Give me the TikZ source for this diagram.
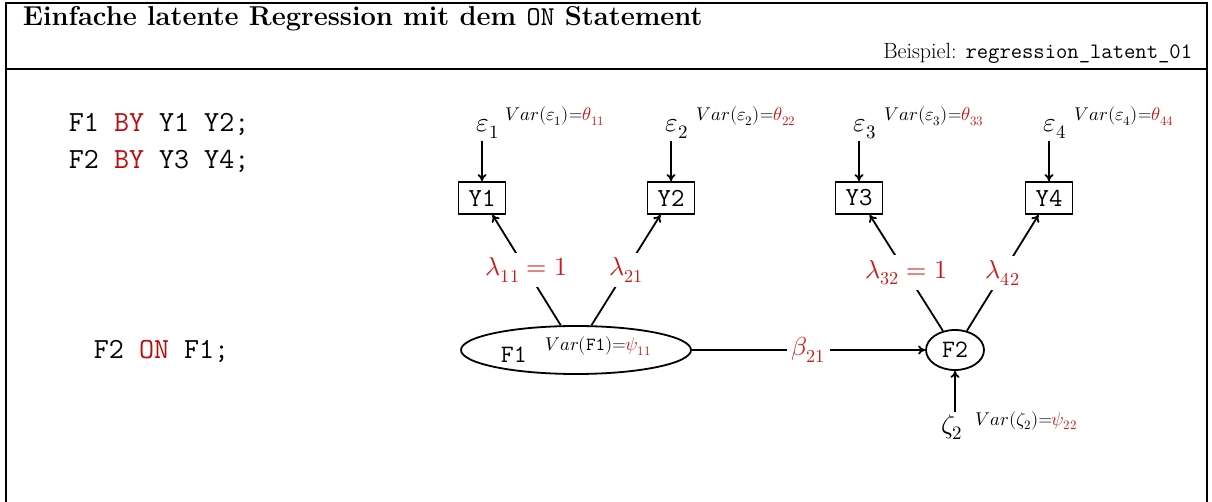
\documentclass[tikz,border=0pt]{standalone}
\usepackage{fontspec}
\usepackage{unicode-math}
\usetikzlibrary{shapes.geometric,arrows.meta}
\definecolor{lred}{RGB}{205,25,25}
\definecolor{cred}{RGB}{190,10,10}
\newcommand{\fsz}[1]{\fontsize{#1}{#1}\selectfont}
\begin{document}
\begin{tikzpicture}[x=1pt,y=-1pt, line width=1.8pt, >={To[length=7pt,width=9pt]},
  obs/.style={draw, rectangle, minimum width=47pt, minimum height=32pt, inner sep=0pt, font=\fsz{26}\ttfamily},
  lat/.style={draw, ellipse, inner sep=0pt, font=\fsz{25}\ttfamily},
  err/.style={inner sep=1pt, font=\fsz{27}},
  var/.style={anchor=base west, inner sep=0pt, font=\fsz{18.5}},
  lab/.style={fill=white, inner sep=5pt, text=lred, font=\fsz{26}},
  code/.style={anchor=base west, inner sep=0pt, font=\fsz{29.2}\ttfamily},
  conn/.style={->, line width=1.8pt}]
\useasboundingbox (0,0) rectangle (1212,502);
% frame
\draw (6,502) -- (6,3) -- (1207,3) -- (1207,502);
\draw (6,69) -- (1207,69);
\node[anchor=base west, inner sep=0pt, font=\fsz{27.3}\bfseries] (title) at (22,26)
  {Einfache latente Regression mit dem {\mdseries\ttfamily ON} Statement};
\node[anchor=base east, inner sep=0pt, font=\fsz{22}] (bsp) at (1193,59)
  {Beispiel: \texttt{regression\_latent\_01}};
% code
\node[code] (c1) at (68,132) {F1 \textcolor{cred}{BY} Y1 Y2;};
\node[code] (c2) at (68,169) {F2 \textcolor{cred}{BY} Y3 Y4;};
\node[code] (c3) at (93,358) {F2 \textcolor{cred}{ON} F1;};
% observed
\node[obs] (Y1) at (482,198) {Y1};
\node[obs] (Y2) at (671,198) {Y2};
\node[obs] (Y3) at (859,198) {Y3};
\node[obs] (Y4) at (1049,198) {Y4};
% errors
\node[err, anchor=base] (e1) at (488,132) {$\varepsilon_1$};
\node[err, anchor=base] (e2) at (677,132) {$\varepsilon_2$};
\node[err, anchor=base] (e3) at (865,132) {$\varepsilon_3$};
\node[err, anchor=base] (e4) at (1055,132) {$\varepsilon_4$};
\node[var] (v1) at (505,121) {$Var(\varepsilon_1)$=\textcolor{lred}{$\theta_{11}$}};
\node[var] (v2) at (696,121) {$Var(\varepsilon_2)$=\textcolor{lred}{$\theta_{22}$}};
\node[var] (v3) at (884,121) {$Var(\varepsilon_3)$=\textcolor{lred}{$\theta_{33}$}};
\node[var] (v4) at (1074,121) {$Var(\varepsilon_4)$=\textcolor{lred}{$\theta_{44}$}};
\foreach \i in {1,2,3,4}{
  \draw[conn] (e\i.south -| Y\i.north) -- (Y\i.north);
}
% latent
\node[lat, minimum width=230pt, minimum height=48pt] (F1) at (576,350)
  {F1\hspace{19pt}\raisebox{12pt}{\fsz{18.5}\rmfamily $Var(\texttt{F1})$=\textcolor{lred}{$\psi_{11}$}}};
\node[lat, minimum width=58pt, minimum height=40pt] (F2) at (955,350) {F2};
% disturbance
\node[err, anchor=base] (z2) at (952,433) {$\zeta_2$};
\node[var] (vz) at (975,425) {$Var(\zeta_2)$=\textcolor{lred}{$\psi_{22}$}};
\draw[conn] (z2.north -| F2.south) -- (F2.south);
% paths
\draw[conn] (F1) -- node[lab]{$\lambda_{11}=1$} (Y1);
\draw[conn] (F1) -- node[lab]{$\lambda_{21}$} (Y2);
\draw[conn] (F2) -- node[lab]{$\lambda_{32}=1$} (Y3);
\draw[conn] (F2) -- node[lab]{$\lambda_{42}$} (Y4);
\draw[conn] (F1) -- node[lab]{$\beta_{21}$} (F2);
\end{tikzpicture}
\end{document}
